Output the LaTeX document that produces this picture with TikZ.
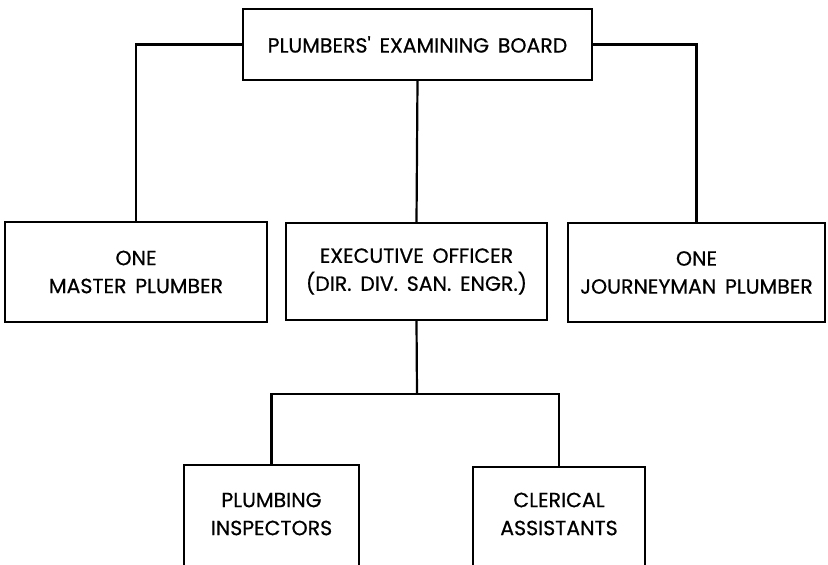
\documentclass[tikz,border=0pt]{standalone}
\usepackage{fontspec}
\setmainfont[WordSpace=1.6,FakeBold=0.6]{Poppins}
\begin{document}
\begin{tikzpicture}[x=1pt,y=-1pt,
  lbl/.style={font=\fontsize{20.5}{28}\selectfont},
  box/.style={draw,line width=2.2pt,inner sep=0pt,align=center,lbl},
  conn/.style={line width=2.2pt}]
\useasboundingbox (0,0) rectangle (828,565);
\node[box,minimum width=349pt,minimum height=71pt] (top) at (417.5,44.5) {PLUMBERS\textquotesingle{} EXAMINING BOARD};
\node[box,minimum width=262pt,minimum height=100pt] (left) at (136,272) {ONE\\MASTER PLUMBER};
\node[box,minimum width=261pt,minimum height=97pt] (mid) at (416.5,271.5) {EXECUTIVE OFFICER\\(DIR. DIV. SAN. ENGR.)};
\node[box,minimum width=257pt,minimum height=99pt] (right) at (696.5,272.5) {ONE\\JOURNEYMAN PLUMBER};
\node[box,minimum width=175pt,minimum height=135pt] (bl) at (271.5,532.5) {};
\node[box,minimum width=172pt,minimum height=133pt] (br) at (559,533.5) {};
\node[align=center,lbl,inner sep=0pt] (blt) at (271.5,514) {PLUMBING\\INSPECTORS};
\node[align=center,lbl,inner sep=0pt] (brt) at (559,514) {CLERICAL\\ASSISTANTS};
\coordinate (bj) at (417,394);
\draw[conn] (top.west) -| (left.north);
\draw[conn] (top.east) -| (right.north);
\draw[conn] (top.south) -- (mid.north);
\draw[conn] (mid.south) -- (bj);
\draw[conn] (bj) -| (bl.north);
\draw[conn] (bj) -| (br.north);
\end{tikzpicture}
\end{document}
